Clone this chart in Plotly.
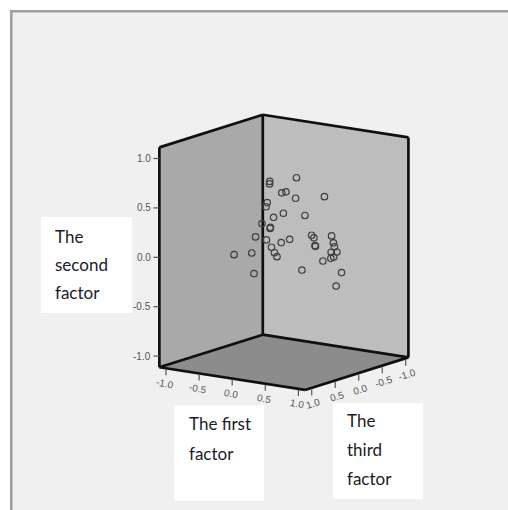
import plotly.graph_objects as go

first_factor = [-0.54,-0.06,-0.31,-0.57,-0.26,0.02,-0.40,0.00,0.25,-0.28,0.01,-0.44,0.03,0.30,-0.15,-0.11,-0.34,0.07,-0.43,0.11,-0.04,0.39,0.19,0.46,0.47,0.49,0.24,0.47,0.69,0.13,0.66,0.65,0.89,0.55,0.43,0.80,0.78,0.61,0.80,0.86]
second_factor = [-0.035,0.077,-0.217,0.067,0.279,0.188,-0.035,0.026,0.057,0.198,0.299,0.249,0.117,0.208,0.350,0.522,0.411,0.785,0.603,0.644,0.593,0.633,0.775,0.451,0.583,0.239,0.127,0.117,0.178,-0.196,-0.004,0.219,0.219,0.067,-0.014,0.087,0.036,-0.014,-0.136,-0.237]
third_factor = [0.3,0.6,0.2,-0.2,0.1,0.4,-0.3,0.2,0.5,-0.1,0.3,-0.4,0.1,0.3,-0.2,0.2,-0.1,0.4,-0.3,0.2,-0.1,0.3,0.0,0.2,-0.2,0.1,-0.3,0.0,0.3,-0.2,0.1,-0.1,0.2,-0.3,-0.4,0.0,0.1,-0.2,-0.1,0.1]
tick_values = [-1.0,-0.5,0.0,0.5,1.0]
tick_labels = ["-1.0","-0.5","0.0","0.5","1.0"]

W, H = 508, 510
LIM = 1.1
LIM_Y = 1.113

# orthographic view of the cube
def project(first, second, third):
    return (283.9 + 66.2 * first - 47.0 * third,
            252.35 + 10.3 * first + 14.8 * third - 98.8 * second)

def px(x): return x / W
def py(y): return 1 - y / H

fig = go.Figure()

def wall(corners, color):
    pts = [project(*c) for c in corners]
    fig.add_trace(go.Scatter(x=[p[0] for p in pts], y=[p[1] for p in pts], mode="lines", fill="toself",
                             fillcolor=color, line=dict(width=0), hoverinfo="skip"))

wall([(-LIM,-LIM_Y,-LIM),(-LIM,LIM_Y,-LIM),(-LIM,LIM_Y,LIM),(-LIM,-LIM_Y,LIM)], "#a9a9a9")
wall([(-LIM,-LIM_Y,-LIM),(-LIM,LIM_Y,-LIM),(LIM,LIM_Y,-LIM),(LIM,-LIM_Y,-LIM)], "#bdbdbd")
wall([(-LIM,-LIM_Y,-LIM),(LIM,-LIM_Y,-LIM),(LIM,-LIM_Y,LIM),(-LIM,-LIM_Y,LIM)], "#8c8c8c")

edges = [
    ((-LIM,-LIM_Y,LIM),(-LIM,LIM_Y,LIM)), ((-LIM,LIM_Y,LIM),(-LIM,LIM_Y,-LIM)), ((-LIM,LIM_Y,-LIM),(LIM,LIM_Y,-LIM)),
    ((LIM,LIM_Y,-LIM),(LIM,-LIM_Y,-LIM)), ((-LIM,LIM_Y,-LIM),(-LIM,-LIM_Y,-LIM)),
    ((-LIM,-LIM_Y,-LIM),(-LIM,-LIM_Y,LIM)), ((-LIM,-LIM_Y,-LIM),(LIM,-LIM_Y,-LIM)),
    ((-LIM,-LIM_Y,LIM),(LIM,-LIM_Y,LIM)), ((LIM,-LIM_Y,-LIM),(LIM,-LIM_Y,LIM)),
]
ex, ey = [], []
for a, b in edges:
    pa, pb = project(*a), project(*b)
    ex += [pa[0], pb[0], None]
    ey += [pa[1], pb[1], None]
fig.add_trace(go.Scatter(x=ex, y=ey, mode="lines", line=dict(color="#101010", width=2.7), hoverinfo="skip"))

# tick marks and labels
tx, ty = [], []
def tick_label(text, x, y, angle, anchor="center"):
    fig.add_annotation(text=text, x=x, y=y, xref="x", yref="y", showarrow=False, textangle=angle, xanchor=anchor,
                       yanchor="middle", borderpad=0, font=dict(size=10, color="#555555", family="Liberation Sans"))
for v, lab in zip(tick_values, tick_labels):
    sx, sy = project(-LIM, v, LIM)
    tx += [sx - 6, sx, None]; ty += [sy, sy, None]
    tick_label(lab, sx - 7.5, sy, 0, "right")
    sx, sy = project(v, -LIM_Y, LIM)
    tx += [sx, sx, None]; ty += [sy + 1, sy + 7, None]
    tick_label(lab, sx - 1.5, sy + 15, 11)
    sx, sy = project(LIM, -LIM_Y, v)
    tx += [sx + 2, sx + 2, None]; ty += [sy + 1, sy + 7, None]
    tick_label(lab, sx + 3.5, sy + 15.5, -17)
fig.add_trace(go.Scatter(x=tx, y=ty, mode="lines", line=dict(color="#555555", width=1.2), hoverinfo="skip"))

pts = [project(a, b, c) for a, b, c in zip(first_factor, second_factor, third_factor)]
fig.add_trace(go.Scatter(x=[p[0] for p in pts], y=[p[1] for p in pts], mode="markers",
                         marker=dict(symbol="circle-open", size=6.5, color="#404040", line=dict(color="#404040", width=1.2))))

hidden = dict(visible=False, fixedrange=True)
fig.update_layout(
    width=W, height=H, margin=dict(l=0, r=0, t=0, b=0), showlegend=False,
    paper_bgcolor="#ffffff", plot_bgcolor="rgba(0,0,0,0)",
    xaxis=dict(range=[0, W], domain=[0, 1], **hidden),
    yaxis=dict(range=[H, 0], domain=[0, 1], **hidden),
    shapes=[
        dict(type="rect", xref="paper", yref="paper", x0=px(11.3), x1=px(530), y0=py(11.2), y1=py(530), layer="below",
             fillcolor="#f0f0f0", line=dict(color="#a0a0a0", width=2.6)),
        dict(type="rect", xref="paper", yref="paper", x0=px(41), x1=px(132), y0=py(217), y1=py(313), layer="below", fillcolor="#ffffff", line=dict(width=0)),
        dict(type="rect", xref="paper", yref="paper", x0=px(174), x1=px(264), y0=py(405.5), y1=py(500.5), layer="below", fillcolor="#ffffff", line=dict(width=0)),
        dict(type="rect", xref="paper", yref="paper", x0=px(333), x1=px(423), y0=py(403), y1=py(499), layer="below", fillcolor="#ffffff", line=dict(width=0)),
    ],
)

def label(text, x, y):
    fig.add_annotation(text=text, xref="paper", yref="paper", x=px(x), y=py(y), xanchor="left", yanchor="middle",
                       showarrow=False, borderpad=0, font=dict(size=17, color="#1a1a2a", family="Lato"))
for t, y in [("The", 236), ("second", 264), ("factor", 292)]:
    label(t, 54, y)
for t, y in [("The first", 423), ("factor", 453)]:
    label(t, 188, y)
for t, y in [("The", 420), ("third", 449), ("factor", 478)]:
    label(t, 346, y)

fig.write_html("out.html", config=dict(displayModeBar=False), post_script="document.body.style.margin='0';")
